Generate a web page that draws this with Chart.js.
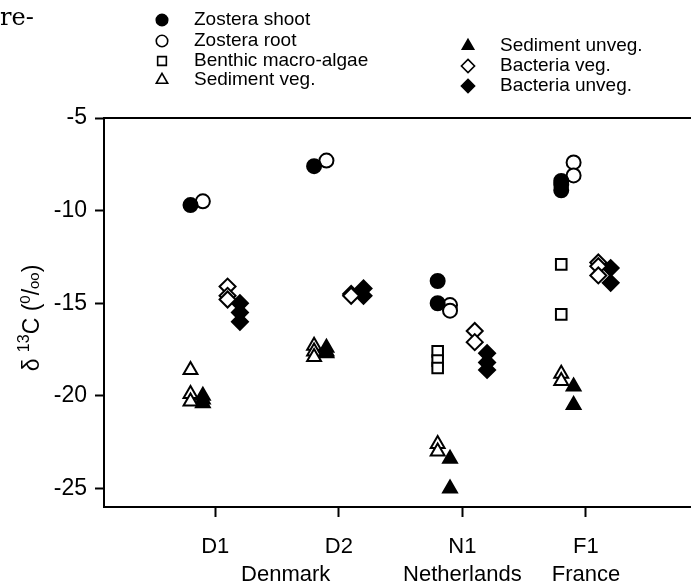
<!DOCTYPE html>
<html>
<head>
<meta charset="utf-8">
<script src="https://cdn.jsdelivr.net/npm/chart.js@4.4.1/dist/chart.umd.min.js"></script>
<style>
  body { margin: 0; background: #fff; }
  canvas { display: block; }
</style>
</head>
<body>
<canvas id="isoChart" width="691" height="584"></canvas>
<script>
// sites on the x axis
const sites = ['D1', 'D2', 'N1', 'F1'];
const countries = ['Denmark', 'Netherlands', 'France'];
const countryAt = [1.57, 3, 4];
const yTicks = [-5, -10, -15, -20, -25];

// delta 13C values per site (D1, D2, N1, F1)
const zosteraShoot = [[-9.7], [-7.6], [-13.8, -15.0], [-8.4, -8.6, -8.9]];
const zosteraRoot = [[-9.5], [-7.3], [-15.1, -15.4], [-7.4, -8.1]];
const benthicAlgae = [[], [], [-17.6, -18.1, -18.5], [-12.9, -15.6]];
const sedimentVeg = [[-18.6, -19.9, -20.3], [-17.3, -17.6, -17.9], [-22.6, -23.0], [-18.8, -19.2]];
const sedimentUnveg = [[-20.0, -20.2, -20.4], [-17.4, -17.6, -17.7], [-23.4, -25.0], [-19.5, -20.5]];
const bacteriaVeg = [[-14.1, -14.6, -14.8], [-14.5, -14.6], [-16.5, -17.1], [-12.8, -13.0, -13.5]];
const bacteriaUnveg = [[-15.0, -15.5, -16.0], [-14.2, -14.6], [-17.7, -18.2, -18.6], [-13.1, -13.9]];

function pts(values, shift) {
    const out = [];
    values.forEach((list, i) => {
        list.forEach(v => out.push({ x: i + 1 + shift, y: v }));
    });
    return out;
}

const series = [
    { label: 'Zostera shoot', values: zosteraShoot, shift: -0.2, style: 'circle', fill: '#000', r: 7 },
    { label: 'Zostera root', values: zosteraRoot, shift: -0.1, style: 'circle', fill: '#fff', r: 7 },
    { label: 'Benthic macro-algae', values: benthicAlgae, shift: -0.2, style: 'rect', fill: '#fff', r: 7.5 },
    { label: 'Sediment veg.', values: sedimentVeg, shift: -0.2, style: 'triangle', fill: '#fff', r: 8 },
    { label: 'Sediment unveg.', values: sedimentUnveg, shift: -0.1, style: 'triangle', fill: '#000', r: 8 },
    { label: 'Bacteria veg.', values: bacteriaVeg, shift: 0.1, style: 'rectRot', fill: '#fff', r: 8 },
    { label: 'Bacteria unveg.', values: bacteriaUnveg, shift: 0.2, style: 'rectRot', fill: '#000', r: 8 }
];

const font = "'Liberation Sans', Arial, sans-serif";

function marker(ctx, style, fill, r, x, y) {
    ctx.beginPath();
    if (style === 'circle') {
        ctx.arc(x, y, r, 0, Math.PI * 2);
    } else if (style === 'rect') {
        const h = r * Math.SQRT1_2;
        ctx.rect(x - h, y - h, 2 * h, 2 * h);
    } else if (style === 'triangle') {
        for (let k = 0; k < 3; k++) {
            const a = k * 2 * Math.PI / 3;
            ctx[k ? 'lineTo' : 'moveTo'](x + Math.sin(a) * r, y - Math.cos(a) * r);
        }
        ctx.closePath();
    } else {
        ctx.moveTo(x, y - r);
        ctx.lineTo(x + r, y);
        ctx.lineTo(x, y + r);
        ctx.lineTo(x - r, y);
        ctx.closePath();
    }
    ctx.fillStyle = fill;
    ctx.fill();
    ctx.lineWidth = 1.6;
    ctx.strokeStyle = '#000';
    ctx.stroke();
}

const extras = {
    id: 'extras',
    afterDraw(chart) {
        const ctx = chart.ctx;
        const area = chart.chartArea;
        const xs = chart.scales.x;
        ctx.save();
        // top frame line
        ctx.strokeStyle = '#000';
        ctx.lineWidth = 2;
        ctx.beginPath();
        ctx.moveTo(area.left - 1, area.top);
        ctx.lineTo(chart.width, area.top);
        ctx.stroke();

        ctx.fillStyle = '#000';
        // country labels
        ctx.font = '22px ' + font;
        ctx.textAlign = 'center';
        ctx.textBaseline = 'middle';
        countries.forEach((c, i) => {
            ctx.fillText(c, xs.getPixelForValue(countryAt[i]), 575);
        });

        // page fragment
        ctx.font = "24px 'DejaVu Serif', serif";
        ctx.textAlign = 'left';
        ctx.fillText('re-', 0, 19);

        // legend
        const rows = [[162, 20], [162, 41], [162, 61], [162, 80], [468, 46], [468, 66], [468, 86]];
        series.forEach((s, i) => {
            const [lx, ly] = rows[i];
            marker(ctx, s.style, s.fill, s.r * 0.82, lx, ly);
            ctx.fillStyle = '#000';
            ctx.font = '19px ' + font;
            ctx.fillText(s.label, lx + 32, ly);
        });

        // y title
        const parts = [
            ['δ', 23, 0], [' ', 23, 0], ['13', 16, -10], ['C', 23, 0], [' (', 23, 0],
            ['0', 15, -9], ['/', 23, 0], ['oo', 15, 0], [')', 23, 0]
        ];
        let total = 0;
        parts.forEach(([t, size]) => {
            ctx.font = size + 'px ' + font;
            total += ctx.measureText(t).width;
        });
        ctx.translate(39, 318);
        ctx.rotate(-Math.PI / 2);
        ctx.textBaseline = 'alphabetic';
        let x = -total / 2;
        parts.forEach(([t, size, dy]) => {
            ctx.font = size + 'px ' + font;
            ctx.fillText(t, x, dy);
            x += ctx.measureText(t).width;
        });
        ctx.restore();
    }
};

new Chart(document.getElementById('isoChart'), {
    type: 'scatter',
    data: {
        datasets: series.map(s => ({
            label: s.label,
            data: pts(s.values, s.shift),
            pointStyle: s.style,
            pointRadius: s.r,
            pointHoverRadius: s.r,
            backgroundColor: s.fill,
            borderColor: '#000',
            borderWidth: 2
        }))
    },
    plugins: [extras],
    options: {
        responsive: false,
        animation: false,
        layout: { autoPadding: false, padding: { top: 118, right: 0, left: 0, bottom: 0 } },
        plugins: {
            legend: { display: false },
            tooltip: { enabled: false }
        },
        scales: {
            x: {
                type: 'linear',
                min: 0.1,
                max: 4.85,
                afterBuildTicks: s => { s.ticks = sites.map((_, i) => ({ value: i + 1 })); },
                afterFit: s => { s.height = 77; },
                grid: { drawOnChartArea: false, drawTicks: true, tickLength: 10, tickWidth: 2, tickColor: '#000' },
                border: { display: true, color: '#000', width: 2 },
                ticks: {
                    color: '#000',
                    padding: 17,
                    font: { family: font, size: 22 },
                    callback: v => sites[v - 1]
                }
            },
            y: {
                min: -26,
                max: -5,
                afterBuildTicks: s => { s.ticks = yTicks.map(v => ({ value: v })); },
                afterFit: s => { s.width = 104; },
                grid: { drawOnChartArea: false, drawTicks: true, tickLength: 9, tickWidth: 2, tickColor: '#000' },
                border: { display: true, color: '#000', width: 2 },
                ticks: {
                    color: '#000',
                    padding: 8,
                    font: { family: font, size: 23 }
                }
            }
        }
    }
});
</script>
</body>
</html>
